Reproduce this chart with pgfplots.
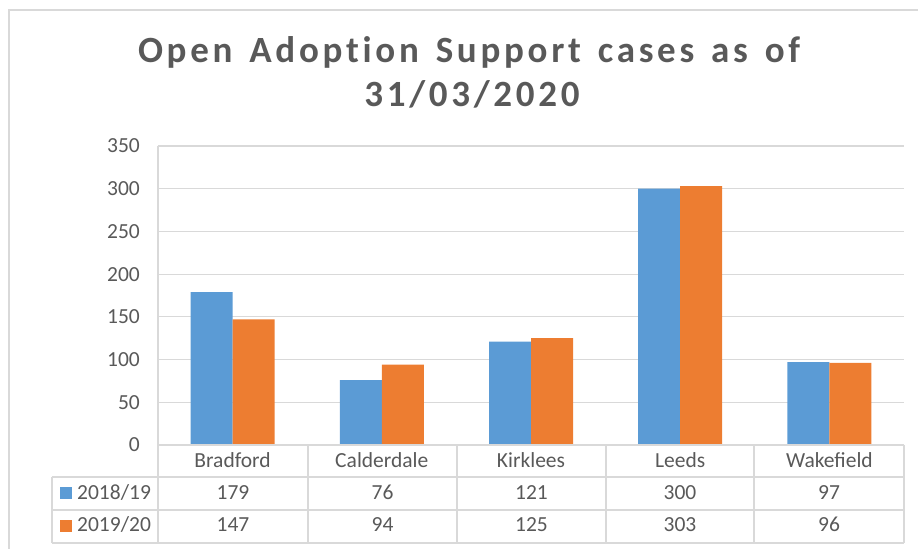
\documentclass[border=0pt]{standalone}
\usepackage{fontspec}
\setmainfont{Carlito}
\newfontfamily\titlefont{Carlito}[LetterSpace=10,WordSpace=1.4,Ligatures=NoCommon]
\usepackage{pgfplots}
\pgfplotsset{compat=1.18}
\definecolor{txtgray}{HTML}{595959}
\definecolor{linegray}{HTML}{D9D9D9}
\definecolor{sblue}{HTML}{5B9BD5}
\definecolor{sorange}{HTML}{ED7D31}
\newcommand\lbl{\fontsize{21.5bp}{26bp}\selectfont}
\begin{document}
\begin{tikzpicture}[x=1bp,y=1bp]
\begin{axis}[
  name=ax,
  scale only axis, width=746bp, height=299bp,
  xmin=-0.5, xmax=4.5, ymin=0, ymax=350,
  ybar=0pt, bar width=42bp,
  axis line style={draw=none},
  major tick length=0pt,
  ytick={0,50,...,350},
  ymajorgrids, grid style={linegray,line width=1.2bp},
  xtick={0,1,2,3,4},
  xticklabels={Bradford,Calderdale,Kirklees,Leeds,Wakefield},
  xticklabel style={anchor=base,yshift=-23bp,inner sep=0pt},
  yticklabel style={inner sep=0pt,xshift=-18bp},
  tick label style={font=\lbl,text=txtgray},
  /pgf/number format/assume math mode=true,
  clip=false,
]
\addplot[fill=sblue,draw=none] coordinates {(0,179) (1,76) (2,121) (3,300) (4,97)};
\addplot[fill=sorange,draw=none] coordinates {(0,147) (1,94) (2,125) (3,303) (4,96)};
\end{axis}
% everything else in image pixels, plot corner at (158,104)
\begin{scope}[shift={(ax.south west)},shift={(-158,-104)}]
\useasboundingbox (0,0) rectangle (918,549);
% chart frame (only top and left visible)
\draw[linegray,line width=2bp] (918,539) -- (9,539) -- (9,0);
% title
\node[txtgray,font=\titlefont\bfseries\fontsize{37bp}{44bp}\selectfont,anchor=base] at (469,486) {Open Adoption Support cases as of};
\node[txtgray,font=\titlefont\bfseries\fontsize{37bp}{44bp}\selectfont,anchor=base] at (472,442) {31/03/2020};
% data table grid
\begin{scope}[linegray,line width=1.5bp]
\draw (158,104) -- (904,104);
\draw (52,72) -- (904,72);
\draw (52,39) -- (904,39);
\draw (52,6) -- (904,6);
\draw (52,72) -- (52,6);
\draw (158,403) -- (158,6);
\foreach \xx in {308,457,606,754,904} \draw (\xx,104) -- (\xx,6);
\end{scope}
% series rows
\fill[sblue] (60,50) rectangle (72,62);
\fill[sorange] (60,17) rectangle (72,29);
\node[anchor=base west,inner sep=0pt,txtgray,font=\lbl] at (77,49) {2018/19};
\node[anchor=base west,inner sep=0pt,txtgray,font=\lbl] at (77,17) {2019/20};
\foreach \xc/\va/\vb in {233/179/147,382.5/76/94,531.5/121/125,680/300/303,829/97/96}{
  \node[anchor=base,inner sep=0pt,txtgray,font=\lbl] at (\xc,49) {\va};
  \node[anchor=base,inner sep=0pt,txtgray,font=\lbl] at (\xc,17) {\vb};
}
\end{scope}
\end{tikzpicture}
\end{document}
